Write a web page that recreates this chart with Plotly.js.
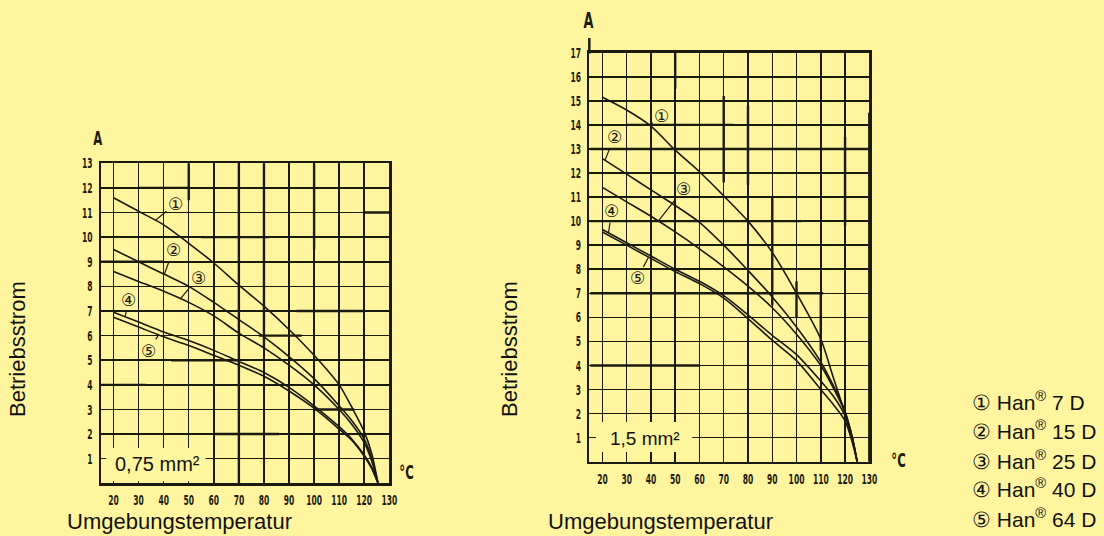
<!DOCTYPE html>
<html>
<head>
<meta charset="utf-8">
<script src="https://cdn.plot.ly/plotly-3.0.1.min.js"></script>
<style>
  html, body { margin: 0; padding: 0; background: #fff59f; }
  #chart { width: 1104px; height: 536px; }
</style>
</head>
<body>
<div id="chart"></div>
<script>
// ---------- data ----------
// 0,75 mm² (left diagram)
const tempL   = [20, 30, 40, 50, 60, 70, 80, 90, 100, 110, 115, 120, 123, 125.5];
const han7L   = [11.6, 11.05, 10.5, 9.75, 8.95, 8.05, 7.2, 6.25, 5.2, 4.0, 3.1, 2.1, 1.2, 0];
const han15L  = [9.5, 9.0, 8.5, 8.0, 7.35, 6.65, 5.95, 5.15, 4.25, 3.15, 2.55, 1.8, 1.0, 0];
const han25L  = [8.6, 8.2, 7.8, 7.35, 6.8, 6.1, 5.5, 4.8, 4.0, 3.0, 2.4, 1.65, 0.9, 0];
const han40L  = [6.95, 6.55, 6.15, 5.8, 5.4, 4.95, 4.5, 3.9, 3.15, 2.3, 1.8, 1.15, 0.65, 0];
const han64L  = [6.75, 6.35, 5.95, 5.6, 5.2, 4.8, 4.35, 3.75, 3.05, 2.2, 1.75, 1.1, 0.6, 0];

// 1,5 mm² (right diagram)
const tempR   = [20, 30, 40, 50, 60, 70, 80, 90, 100, 110, 115, 120, 123, 125];
const han7R   = [15.15, 14.62, 13.95, 12.95, 12.05, 11.05, 10.0, 8.7, 7.0, 5.1, 3.55, 2.0, 1.0, 0];
const han15R  = [12.6, 11.95, 11.3, 10.65, 9.95, 9.0, 7.95, 6.85, 5.6, 4.15, 3.2, 2.1, 1.0, 0];
const han25R  = [11.4, 10.8, 10.2, 9.55, 8.85, 8.1, 7.3, 6.4, 5.3, 4.0, 3.1, 2.05, 1.0, 0];
const han40R  = [9.65, 9.1, 8.55, 8.0, 7.5, 6.9, 6.1, 5.25, 4.45, 3.35, 2.75, 1.9, 0.9, 0];
const han64R  = [9.55, 9.0, 8.45, 7.9, 7.4, 6.8, 5.95, 5.05, 4.2, 3.0, 2.4, 1.7, 0.8, 0];

const xTicks      = [20, 30, 40, 50, 60, 70, 80, 90, 100, 110, 120, 130];
const yTicksL     = [1, 2, 3, 4, 5, 6, 7, 8, 9, 10, 11, 12, 13];
const yTicksR     = [1, 2, 3, 4, 5, 6, 7, 8, 9, 10, 11, 12, 13, 14, 15, 16, 17];
const circleMarks = ['①', '②', '③', '④', '⑤'];
const legendText  = ['① Han<sup>®</sup> 7 D', '② Han<sup>®</sup> 15 D', '③ Han<sup>®</sup> 25 D',
                     '④ Han<sup>®</sup> 40 D', '⑤ Han<sup>®</sup> 64 D'];
const yTitle      = 'Betriebsstrom';
const xTitle      = 'Umgebungstemperatur';
const unitA       = 'A';
const unitC       = '°C';
const sectionL    = '0,75 mm²';
const sectionR    = '1,5 mm²';

// ---------- styling ----------
const BG   = '#fff59f';
const INK  = '#1b1a10';
const tickFont = { family: 'DejaVu Sans Condensed, DejaVu Sans, sans-serif',
                   size: 14.5, color: INK, weight: 700 };
const textFont = { family: 'Liberation Sans, Arial, sans-serif', size: 22, color: '#111' };
const circFont = { family: 'DejaVu Sans, Noto Sans CJK JP, sans-serif', size: 17, color: INK };
const unitFont = { family: 'DejaVu Sans Condensed, DejaVu Sans, sans-serif', size: 19, color: INK, weight: 700 };

function curve(x, y, xa, ya) {
  return { x: x, y: y, xaxis: xa, yaxis: ya, type: 'scatter', mode: 'lines',
           line: { color: INK, width: 1.6, shape: 'spline', smoothing: 0.8 },
           hoverinfo: 'skip', showlegend: false };
}

const traces = [
  curve(tempL, han7L, 'x', 'y'), curve(tempL, han15L, 'x', 'y'), curve(tempL, han25L, 'x', 'y'),
  curve(tempL, han40L, 'x', 'y'), curve(tempL, han64L, 'x', 'y'),
  curve(tempR, han7R, 'x2', 'y2'), curve(tempR, han15R, 'x2', 'y2'), curve(tempR, han25R, 'x2', 'y2'),
  curve(tempR, han40R, 'x2', 'y2'), curve(tempR, han64R, 'x2', 'y2')
];

function xAxis(domain, range, anchor) {
  return { domain: domain, range: range, anchor: anchor, tickmode: 'array', tickvals: xTicks,
           ticktext: xTicks.map(String), tickangle: 0, showgrid: true, gridcolor: INK, gridwidth: 1.5,
           showline: true, mirror: true, linecolor: INK, linewidth: 2.5, zeroline: false,
           ticks: '', tickfont: tickFont, ticklabelstandoff: 2, fixedrange: true };
}
function yAxis(domain, range, ticks, anchor) {
  return { domain: domain, range: range, anchor: anchor, tickmode: 'array', tickvals: ticks,
           ticktext: ticks.map(String), showgrid: true, gridcolor: INK, gridwidth: 1.5,
           showline: true, mirror: true, linecolor: INK, linewidth: 2.5, zeroline: false,
           ticks: '', tickfont: tickFont, ticklabelstandoff: 3, fixedrange: true };
}

// heavier printed grid segments of the scanned diagrams [x0, y0, x1, y1]
const heavyL = [[70, 0, 70, 13], [80, 13, 80, 5.5], [50, 13, 50, 11.5], [100, 13, 100, 9.5],
                [30, 12, 50, 12], [55, 10, 82, 10], [15, 9, 40, 9], [93, 7, 120, 7], [78, 6, 95, 6],
                [43, 5, 70, 5], [15, 4, 33, 4], [100, 3, 116, 3], [60, 2, 86, 2], [120, 11, 130, 11]];
const heavyR = [[15, 13, 130, 13], [30, 14, 74, 14], [15, 10, 102, 10], [15, 7, 111, 7], [15, 4, 60, 4],
                [70, 11.6, 70, 15.2], [80, 11.5, 80, 14.8], [90, 6.5, 90, 11], [100, 6, 100, 7.5],
                [110, 4.6, 110, 7], [120, 9.8, 120, 13.5], [130, 0, 130, 14.5], [50, 15.5, 50, 17]];

const shapes = [];
heavyL.forEach(s => shapes.push({ type: 'line', xref: 'x', yref: 'y', x0: s[0], y0: s[1], x1: s[2], y1: s[3],
  line: { color: INK, width: 2.4 }, layer: 'between' }));
heavyR.forEach(s => shapes.push({ type: 'line', xref: 'x2', yref: 'y2', x0: s[0], y0: s[1], x1: s[2], y1: s[3],
  line: { color: INK, width: 2.4 }, layer: 'between' }));
// label boxes that blank the grid
shapes.push({ type: 'rect', xref: 'x', yref: 'y', x0: 17.1, x1: 56.7, y0: 0.08, y1: 1.43,
  fillcolor: BG, line: { width: 0 }, layer: 'between' });
shapes.push({ type: 'rect', xref: 'x2', yref: 'y2', x0: 17.4, x1: 57, y0: 0.4, y1: 1.65,
  fillcolor: BG, line: { width: 0 }, layer: 'between' });
// y axis of the right diagram runs a little above the grid
shapes.push({ type: 'line', xref: 'paper', yref: 'paper', x0: 0.5338, x1: 0.5338, y0: 0.90, y1: 0.929,
  line: { color: INK, width: 2.5 } });

function circ(i, xa, ya, px, py, tx, ty) {
  return { xref: xa, yref: ya, axref: xa, ayref: ya, x: px, y: py, ax: tx, ay: ty,
           text: circleMarks[i], font: circFont, showarrow: true, arrowhead: 0,
           arrowwidth: 1.2, arrowcolor: INK, standoff: 0, startstandoff: 0 };
}
function label(px, py, text, font, extra) {
  return Object.assign({ xref: 'paper', yref: 'paper', x: px / 1104, y: 1 - py / 536,
    xanchor: 'center', yanchor: 'middle', text: text, showarrow: false, font: font }, extra || {});
}

const annotations = [
  circ(0, 'x', 'y', 36.7, 10.68, 44.7, 11.36),
  circ(1, 'x', 'y', 40.3, 8.5, 43.8, 9.48),
  circ(2, 'x', 'y', 46.7, 7.5, 53.8, 8.36),
  circ(3, 'x', 'y', 24.7, 6.8, 26, 7.46),
  circ(4, 'x', 'y', 38, 6.03, 33.8, 5.38),
  circ(0, 'x2', 'y2', 39.4, 13.98, 44.5, 14.37),
  circ(1, 'x2', 'y2', 21.1, 12.53, 24.8, 13.48),
  circ(2, 'x2', 'y2', 43.1, 10.01, 53.4, 11.33),
  circ(3, 'x2', 'y2', 22.5, 9.51, 23.9, 10.42),
  circ(4, 'x2', 'y2', 39, 8.5, 34.4, 7.62),
  { xref: 'x', yref: 'y', x: 37.7, y: 0.78, xanchor: 'center', yanchor: 'middle', text: sectionL, showarrow: false,
    font: { family: 'Liberation Sans, Arial, sans-serif', size: 20, color: '#111' } },
  { xref: 'x2', yref: 'y2', x: 37.6, y: 0.96, xanchor: 'center', yanchor: 'middle', text: sectionR, showarrow: false,
    font: { family: 'Liberation Sans, Arial, sans-serif', size: 19, color: '#111' } },
  // unit labels
  label(98, 138, unitA, unitFont),
  label(588, 21, unitA, Object.assign({}, unitFont, { size: 21 })),
  label(406, 472, unitC, unitFont),
  label(898, 460, unitC, unitFont),
  // axis titles
  label(17, 349, yTitle, textFont, { textangle: -90 }),
  label(509, 349, yTitle, textFont, { textangle: -90 }),
  label(179, 521, xTitle, textFont),
  label(660, 521, xTitle, textFont)
];
const legendY = [401, 430, 460, 488, 518];
legendText.forEach((t, i) => annotations.push(
  label(970, legendY[i], t, { family: 'Liberation Sans, Arial, sans-serif', size: 21, color: '#111' },
        { xanchor: 'left' })));

const layout = {
  width: 1104, height: 536,
  margin: { l: 0, r: 0, t: 0, b: 0 },
  paper_bgcolor: BG, plot_bgcolor: BG,
  showlegend: false,
  xaxis:  xAxis([101 / 1104, 389.3 / 1104], [15, 130], 'y'),
  yaxis:  yAxis([(536 - 483.3) / 536, (536 - 163.3) / 536], [0, 13], yTicksL, 'x'),
  xaxis2: xAxis([589.3 / 1104, 869.3 / 1104], [14.6, 130], 'y2'),
  yaxis2: yAxis([(536 - 461.7) / 536, (536 - 52.7) / 536], [0, 17], yTicksR, 'x2'),
  shapes: shapes,
  annotations: annotations
};

// the printed diagrams use a very narrow typeface: squeeze those labels horizontally
function squeeze(el, factor, alignRight) {
  const b = el.getBBox();
  const cx = alignRight ? b.x + b.width : b.x + b.width / 2;
  const tr = el.getAttribute('transform') || '';
  el.setAttribute('transform', tr + ' translate(' + cx + ',0) scale(' + factor + ',1) translate(' + (-cx) + ',0)');
}

Plotly.newPlot('chart', traces, layout, { staticPlot: true, displayModeBar: false }).then(function (gd) {
  gd.querySelectorAll('.xtick text, .x2tick text').forEach(t => squeeze(t, 0.58, false));
  gd.querySelectorAll('.ytick text, .y2tick text').forEach(t => squeeze(t, 0.58, true));
  gd.querySelectorAll('.annotation-text').forEach(t => {
    if (t.textContent === unitA || t.textContent === unitC) squeeze(t, 0.68, false);
  });
});
</script>
</body>
</html>
